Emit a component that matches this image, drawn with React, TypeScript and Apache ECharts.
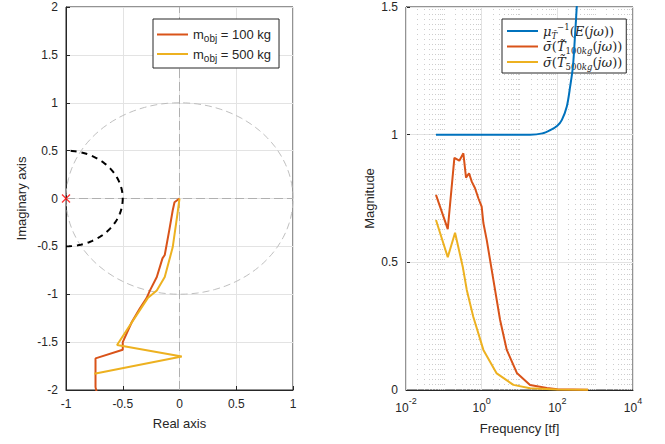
import React, { useEffect, useRef } from 'react';
import * as echarts from 'echarts';

// ---------- Data ----------
// Left: Nyquist-like curves [real, imag]
const NYQ_100: [number, number][] = [
  [0, 0], [-0.044, -0.04], [-0.06, -0.125], [-0.09, -0.33], [-0.13, -0.59], [-0.15, -0.625],
  [-0.2, -0.82], [-0.26, -0.96], [-0.29, -1.04], [-0.35, -1.15], [-0.42, -1.29], [-0.5, -1.5],
  [-0.5, -1.58], [-0.74, -1.67], [-0.74, -1.97], [-0.73, -2.02],
];
const NYQ_500: [number, number][] = [
  [0, 0], [-0.018, -0.16], [-0.06, -0.51], [-0.13, -0.82], [-0.2, -0.96], [-0.28, -1.04],
  [-0.55, -1.53], [0.02, -1.65], [-0.75, -1.83],
];
const CRITICAL_POINT: [number, number][] = [[-1, 0]];

// Right: magnitude vs frequency [freq, magnitude]
const MU_INV: [number, number][] = [
  [0.062, 1.0], [19, 1.0], [40, 1.005], [65, 1.018], [100, 1.035], [132, 1.058], [178, 1.11],
  [218, 1.188], [258, 1.266], [296, 1.398], [330, 1.515], [360, 1.65],
];
const SIG_100: [number, number][] = [
  [0.062, 0.764], [0.127, 0.63], [0.19, 0.909], [0.257, 0.898], [0.328, 0.927], [0.386, 0.832],
  [0.464, 0.849], [0.547, 0.816], [0.668, 0.79], [0.818, 0.751], [1.0, 0.718], [1.11, 0.654],
  [1.36, 0.588], [2.04, 0.431], [3.07, 0.274], [4.61, 0.157], [8.5, 0.067], [19, 0.02],
  [53, 0.008], [100, 0.003], [650, 0.001],
];
const SIG_500: [number, number][] = [
  [0.062, 0.666], [0.127, 0.52], [0.198, 0.616], [0.316, 0.483], [0.404, 0.392], [0.6, 0.287],
  [1.11, 0.157], [2.5, 0.065], [6.9, 0.02], [19, 0.007], [100, 0.002], [650, 0.001],
];

// Axis ticks
const LEFT_X = { min: -1, max: 1, step: 0.5 };
const LEFT_Y = { min: -2, max: 2, step: 0.5 };
const RIGHT_Y = { min: 0, max: 1.5, step: 0.5 };
const RIGHT_X_EXPONENTS = [-2, -1, 0, 1, 2, 3, 4];
const RIGHT_X_LABEL_EXPONENTS = [-2, 0, 2, 4];
const MINOR_MULTIPLIERS = [2, 3, 4, 5, 6, 7, 8, 9];

// Legend names
const LEFT_NAMES = ['m100', 'm500'];
const RIGHT_NAMES = ['mu', 's100', 's500'];

// Reference circles (geometric constructs)
const ANGLES_FULL = Array.from({ length: 121 }, (_, i) => (i * 3 * Math.PI) / 180);
const ANGLES_HALF = Array.from({ length: 61 }, (_, i) => ((-90 + i * 3) * Math.PI) / 180);
const UNIT_CIRCLE = ANGLES_FULL.map((t) => [Math.cos(t), Math.sin(t)]);
const HALF_CIRCLE = ANGLES_HALF.map((t) => [-1 + 0.5 * Math.cos(t), 0.5 * Math.sin(t)]);

// ---------- Styles ----------
const AX = '#262626';
const GRID = '#e3e3e3';
const MINOR = '#cdcdcd';
const SANS = 'Liberation Sans, Arial, Helvetica, sans-serif';
const SERIF = 'DejaVu Serif, Liberation Serif, serif';
const BLUE = '#0072BD';
const ORANGE = '#D95319';
const YELLOW = '#EDB120';

const baseAxis = {
  axisLine: { onZero: false, lineStyle: { color: AX, width: 1 } },
  axisTick: { inside: true, length: 4, lineStyle: { color: AX } },
  axisLabel: { color: AX, fontSize: 12, fontFamily: SANS },
  nameLocation: 'middle' as const,
  nameTextStyle: { color: AX, fontSize: 13, fontFamily: SANS },
  splitLine: { show: true, lineStyle: { color: GRID, width: 1 } },
};

const rightMajor = RIGHT_X_EXPONENTS.filter((e) => RIGHT_X_LABEL_EXPONENTS.includes(e)).map((e) => ({
  xAxis: Math.pow(10, e),
  lineStyle: { color: GRID, width: 1, type: 'solid' },
}));
const rightMinor: any[] = [];
RIGHT_X_EXPONENTS.forEach((e) => {
  if (!RIGHT_X_LABEL_EXPONENTS.includes(e)) {
    rightMinor.push({ xAxis: Math.pow(10, e), lineStyle: { color: MINOR, width: 1, type: [1, 4] } });
  }
  if (e < 4) {
    MINOR_MULTIPLIERS.forEach((m) =>
      rightMinor.push({ xAxis: m * Math.pow(10, e), lineStyle: { color: MINOR, width: 1, type: [1, 4] } })
    );
  }
});

const leftLegendText: Record<string, string> = {
  m100: '{n|m}{s|obj}{n| = 100 kg}',
  m500: '{n|m}{s|obj}{n| = 500 kg}',
};
const rightLegendText: Record<string, string> = {
  mu: '{i|μ}{subi|T\u0303}{sup|−1}{r|(}{i|E}{r|(}{i|jω}{r|))}',
  s100: '{i|σ\u0304}{r|(}{i|T\u0303}{sub|100}{subi|kg}{r|(}{i|jω}{r|))}',
  s500: '{i|σ\u0304}{r|(}{i|T\u0303}{sub|500}{subi|kg}{r|(}{i|jω}{r|))}',
};

const option: any = {
  animation: false,
  backgroundColor: '#ffffff',
  grid: [
    { left: 66, top: 7, width: 227, height: 383, show: true, borderColor: AX, borderWidth: 1, containLabel: false },
    { left: 406, top: 7, width: 227, height: 383, show: true, borderColor: AX, borderWidth: 1, containLabel: false },
  ],
  xAxis: [
    {
      ...baseAxis,
      gridIndex: 0,
      type: 'value',
      min: LEFT_X.min,
      max: LEFT_X.max,
      interval: LEFT_X.step,
      name: 'Real axis',
      nameGap: 27,
      axisLabel: { ...baseAxis.axisLabel, margin: 8 },
    },
    {
      ...baseAxis,
      gridIndex: 1,
      type: 'log',
      logBase: 10,
      min: 0.01,
      max: 10000,
      interval: 2,
      name: 'Frequency [tf]',
      nameGap: 32,
      splitLine: { show: false },
      axisLabel: {
        ...baseAxis.axisLabel,
        margin: 6,
        formatter: (v: number) => {
          const e = Math.round(Math.log10(v));
          if (!RIGHT_X_LABEL_EXPONENTS.includes(e)) return '';
          return `{b|10}{e|${e}}`;
        },
        rich: {
          b: { fontSize: 12, fontFamily: SANS, color: AX, lineHeight: 18, verticalAlign: 'bottom' },
          e: { fontSize: 9, fontFamily: SANS, color: AX, lineHeight: 10, verticalAlign: 'top' },
        },
      },
    },
  ],
  yAxis: [
    {
      ...baseAxis,
      gridIndex: 0,
      type: 'value',
      min: LEFT_Y.min,
      max: LEFT_Y.max,
      interval: LEFT_Y.step,
      name: 'Imaginary axis',
      nameGap: 38,
    },
    {
      ...baseAxis,
      gridIndex: 1,
      type: 'value',
      min: RIGHT_Y.min,
      max: RIGHT_Y.max,
      interval: RIGHT_Y.step,
      name: 'Magnitude',
      nameGap: 30,
    },
  ],
  legend: [
    {
      data: LEFT_NAMES,
      left: 153,
      top: 19,
      orient: 'vertical',
      icon: 'rect',
      itemWidth: 31,
      itemHeight: 2,
      itemGap: 4,
      padding: [9, 8, 5, 4],
      backgroundColor: '#ffffff',
      borderColor: AX,
      borderWidth: 1,
      borderRadius: 0,
      selectedMode: false,
      formatter: (n: string) => leftLegendText[n],
      textStyle: {
        color: AX,
        fontFamily: SANS,
        rich: {
          n: { fontSize: 13, fontFamily: SANS, color: AX, lineHeight: 18, verticalAlign: 'middle' },
          s: { fontSize: 10, fontFamily: SANS, color: AX, lineHeight: 4, verticalAlign: 'bottom' },
        },
      },
    },
    {
      data: RIGHT_NAMES,
      left: 502,
      top: 19,
      orient: 'vertical',
      icon: 'rect',
      itemWidth: 31,
      itemHeight: 2,
      itemGap: 0,
      padding: [3, 4, 2, 5],
      backgroundColor: '#ffffff',
      borderColor: AX,
      borderWidth: 1,
      borderRadius: 0,
      selectedMode: false,
      formatter: (n: string) => rightLegendText[n],
      textStyle: {
        color: AX,
        fontFamily: SERIF,
        rich: {
          r: { fontSize: 13, fontFamily: SERIF, color: AX, lineHeight: 18, verticalAlign: 'middle' },
          i: { fontSize: 13, fontFamily: SERIF, fontStyle: 'italic', color: AX, lineHeight: 18, verticalAlign: 'middle' },
          sub: { fontSize: 8.5, fontFamily: SERIF, color: AX, lineHeight: 7, verticalAlign: 'bottom' },
          subi: { fontSize: 8.5, fontFamily: SERIF, fontStyle: 'italic', color: AX, lineHeight: 7, verticalAlign: 'bottom' },
          sup: { fontSize: 8.5, fontFamily: SERIF, color: AX, lineHeight: 7, verticalAlign: 'top' },
        },
      },
    },
  ],
  series: [
    {
      name: 'zeroLines',
      type: 'line',
      xAxisIndex: 0,
      yAxisIndex: 0,
      data: [],
      z: 1,
      silent: true,
      markLine: {
        z: 1,
        silent: true,
        symbol: ['none', 'none'],
        label: { show: false },
        animation: false,
        lineStyle: { color: '#b0b0b0', width: 1, type: [9, 4] },
        data: [{ xAxis: 0 }, { yAxis: 0 }],
      },
    },
    {
      name: 'unitCircle',
      type: 'line',
      xAxisIndex: 0,
      yAxisIndex: 0,
      data: UNIT_CIRCLE,
      symbol: 'none',
      silent: true,
      z: 2,
      lineStyle: { color: '#b8b8b8', width: 0.9, type: [7, 4] },
    },
    {
      name: 'halfCircle',
      type: 'line',
      xAxisIndex: 0,
      yAxisIndex: 0,
      data: HALF_CIRCLE,
      symbol: 'none',
      silent: true,
      z: 3,
      clip: false,
      lineStyle: { color: '#000000', width: 2, type: [6, 5] },
    },
    {
      name: 'm100',
      type: 'line',
      xAxisIndex: 0,
      yAxisIndex: 0,
      data: NYQ_100,
      symbol: 'none',
      z: 4,
      color: ORANGE,
      lineStyle: { color: ORANGE, width: 2 },
    },
    {
      name: 'm500',
      type: 'line',
      xAxisIndex: 0,
      yAxisIndex: 0,
      data: NYQ_500,
      symbol: 'none',
      z: 5,
      color: YELLOW,
      lineStyle: { color: YELLOW, width: 2 },
    },
    {
      name: 'critical',
      type: 'scatter',
      xAxisIndex: 0,
      yAxisIndex: 0,
      data: CRITICAL_POINT,
      symbol: 'path://M0 0L10 10M10 0L0 10',
      symbolSize: 8,
      clip: false,
      z: 6,
      itemStyle: { color: 'none', borderColor: '#ff0000', borderWidth: 1.3 },
    },
    {
      name: 'freqGrid',
      type: 'line',
      xAxisIndex: 1,
      yAxisIndex: 1,
      data: [],
      z: 1,
      silent: true,
      markLine: {
        z: 1,
        silent: true,
        symbol: ['none', 'none'],
        label: { show: false },
        animation: false,
        data: [...rightMajor, ...rightMinor],
      },
    },
    {
      name: 'mu',
      type: 'line',
      xAxisIndex: 1,
      yAxisIndex: 1,
      data: MU_INV,
      symbol: 'none',
      smooth: 0.3,
      z: 4,
      color: BLUE,
      lineStyle: { color: BLUE, width: 2 },
    },
    {
      name: 's100',
      type: 'line',
      xAxisIndex: 1,
      yAxisIndex: 1,
      data: SIG_100,
      symbol: 'none',
      z: 4,
      color: ORANGE,
      lineStyle: { color: ORANGE, width: 2 },
    },
    {
      name: 's500',
      type: 'line',
      xAxisIndex: 1,
      yAxisIndex: 1,
      data: SIG_500,
      symbol: 'none',
      z: 5,
      color: YELLOW,
      lineStyle: { color: YELLOW, width: 2 },
    },
  ],
};

export default function App() {
  const ref = useRef<HTMLDivElement>(null);
  useEffect(() => {
    document.body.style.margin = '0';
    const chart = echarts.init(ref.current!, null, { renderer: 'svg' });
    chart.setOption(option);
    return () => chart.dispose();
  }, []);
  return <div ref={ref} style={{ width: 665, height: 444 }} />;
}
